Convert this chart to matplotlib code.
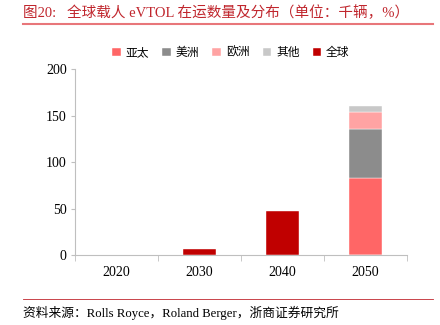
import matplotlib
matplotlib.use('Agg')
import matplotlib.pyplot as plt
import numpy as np

plt.rcParams['font.family'] = ['Liberation Serif', 'Noto Sans CJK SC']

# data (thousand vehicles)
years = ['2020', '2030', '2040', '2050']
asia = [0, 0, 0, 82.5]
america = [0, 0, 0, 53]
europe = [0, 0, 0, 18]
other = [0, 0, 0, 6.5]
world = [0, 7, 47.5, 0]
series_names = ['亚太', '美洲', '欧洲', '其他', '全球']
colors = ['#FF6666', '#8C8C8C', '#FFA3A3', '#C8C8C8', '#C00000']

fig = plt.figure(figsize=(4.4, 3.25), dpi=100)
ax = fig.add_axes([0.1705, 0.2145, 0.7545, 0.5732])

x = np.arange(len(years))
w = 0.4
bottom = np.zeros(len(years))
for vals, name, c in zip([asia, america, europe, other], series_names[:4], colors[:4]):
    ax.bar(x, vals, w, bottom=bottom, color=c, label=name, edgecolor='white', linewidth=0.3)
    bottom += np.array(vals)
ax.bar(x, world, w, color=colors[4], label=series_names[4], edgecolor='white', linewidth=0.3)

ax.set_xlim(-0.5, len(years) - 0.5)
ax.set_ylim(0, 200)
ax.set_yticks([0, 50, 100, 150, 200])
ax.set_xticks(x)
ax.set_xticklabels(years)
ax.set_xticks(np.arange(-0.5, len(years)), minor=True)
ax.tick_params(axis='x', which='major', length=0, labelsize=10, pad=8)
ax.tick_params(axis='x', which='minor', length=4, color='#BFBFBF', direction='out')
ax.tick_params(axis='y', length=3, color='#BFBFBF', labelsize=10, pad=3)
for s in ['top', 'right']:
    ax.spines[s].set_visible(False)
for s in ['left', 'bottom']:
    ax.spines[s].set_color('#BFBFBF')

leg = fig.legend(loc='center', bbox_to_anchor=(0.525, 0.837), ncol=5, frameon=False,
                 fontsize=8.5, handlelength=0.7, handleheight=0.7, handletextpad=0.45,
                 columnspacing=1.1)

fig.text(0.052, 0.962, '图20:   全球载人 eVTOL 在运数量及分布（单位：千辆，%）',
         color='#C0262D', fontsize=10.5, va='center', ha='left')
fig.add_artist(plt.Line2D([0.052, 0.984], [0.925, 0.925], color='#E8767A', linewidth=1.5,
                          transform=fig.transFigure))
fig.add_artist(plt.Line2D([0.052, 0.984], [0.079, 0.079], color='#C0262D', linewidth=0.6,
                          transform=fig.transFigure))
fig.text(0.052, 0.037, '资料来源：Rolls Royce，Roland Berger，浙商证券研究所',
         color='black', fontsize=9.2, va='center', ha='left')

fig.savefig('out.png', dpi=100)
